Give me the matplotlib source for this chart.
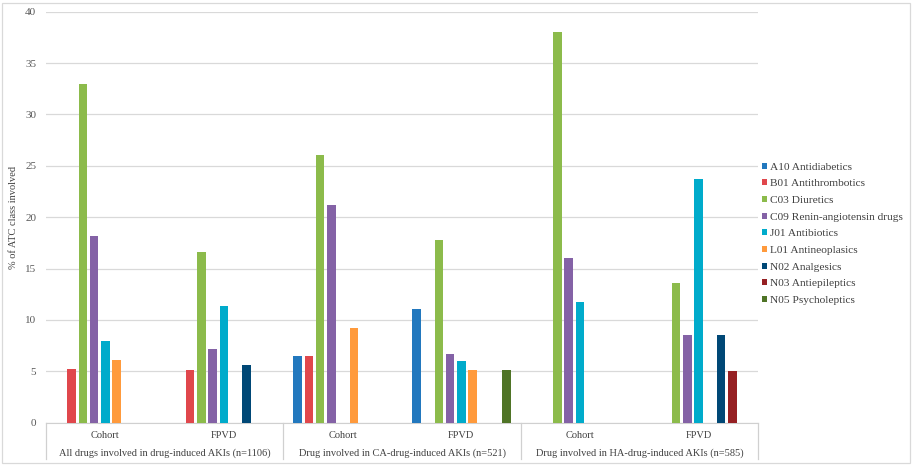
import numpy as np
import matplotlib.pyplot as plt
from matplotlib.patches import Patch, Rectangle

plt.rcParams['font.family'] = ['Liberation Serif', 'DejaVu Serif']

# sub-categories and outer groups on the x axis
sub_labels = ["Cohort", "FPVD", "Cohort", "FPVD", "Cohort", "FPVD"]
group_labels = [
    "All drugs involved in drug-induced AKIs (n=1106)",
    "Drug involved in CA-drug-induced AKIs (n=521)",
    "Drug involved in HA-drug-induced AKIs (n=585)",
]

# % of ATC class involved, per series (0 = not shown)
a10 = [0, 0, 6.5, 11.1, 0, 0]
b01 = [5.2, 5.1, 6.5, 0, 0, 0]
c03 = [33.0, 16.6, 26.1, 17.8, 38.0, 13.6]
c09 = [18.2, 7.2, 21.2, 6.7, 16.0, 8.5]
j01 = [8.0, 11.4, 0, 6.0, 11.7, 23.7]
l01 = [6.1, 0, 9.2, 5.1, 0, 0]
n02 = [0, 5.6, 0, 0, 0, 8.5]
n03 = [0, 0, 0, 0, 0, 5.0]
n05 = [0, 0, 0, 5.1, 0, 0]

series_names = [
    "A10 Antidiabetics", "B01 Antithrombotics", "C03 Diuretics",
    "C09 Renin-angiotensin drugs", "J01 Antibiotics", "L01 Antineoplasics",
    "N02 Analgesics", "N03 Antiepileptics", "N05 Psycholeptics",
]
series_values = [a10, b01, c03, c09, j01, l01, n02, n03, n05]
colors = ["#2278BE", "#E0474C", "#8CBB4B", "#8462A6", "#00ABCB",
          "#FF9A3C", "#004876", "#962023", "#4F7426"]

fig = plt.figure(figsize=(9.13, 4.66), dpi=100)
ax = fig.add_axes([46 / 913, 43.3 / 466, 712 / 913, 411 / 466])

x = np.arange(len(sub_labels))
slot = 0.095
width = 0.072
for i, (vals, col) in enumerate(zip(series_values, colors)):
    vals = np.array(vals, dtype=float)
    mask = vals > 0
    ax.bar(x[mask] + (i - 4) * slot, vals[mask], width=width, color=col, zorder=3)

ax.set_xlim(-0.5, 5.5)
ax.set_ylim(0, 40)
ax.set_yticks(np.arange(0, 41, 5))
ax.grid(axis='y', color='#d9d9d9', linewidth=0.9, zorder=0)
ax.set_xticks([])
for side in ['left', 'right', 'top']:
    ax.spines[side].set_visible(False)
ax.spines['bottom'].set_color('#d0d0d0')
ax.tick_params(axis='y', length=0, labelsize=8, colors='#595959', pad=7)
ax.set_ylabel("% of ATC class involved", fontsize=7.5, color='#404040')
ax.yaxis.set_label_coords(-0.039, 0.5)

# two-level category axis
trans = ax.get_xaxis_transform()
for i, lab in enumerate(sub_labels):
    ax.text(x[i], -0.030, lab, transform=trans, ha='center', va='center',
            fontsize=7.5, color='#404040')
for g, lab in enumerate(group_labels):
    ax.text(2 * g + 0.5, -0.074, lab, transform=trans, ha='center', va='center',
            fontsize=7.5, color='#404040')
for xb in [-0.5, 1.5, 3.5, 5.5]:
    ax.plot([xb, xb], [0, -0.088], transform=trans, color='#d0d0d0',
            linewidth=0.9, clip_on=False)

handles = [Patch(facecolor=c, label=n) for c, n in zip(colors, series_names)]
fig.legend(handles=handles, loc='upper left', bbox_to_anchor=(756 / 913, 1 - 157 / 466),
           frameon=False, fontsize=8.2, handlelength=0.45, handleheight=0.45,
           handletextpad=0.25, labelspacing=0.66, borderpad=0, labelcolor='#404040')

fig.patches.append(Rectangle((2 / 913, 3 / 466), 908 / 913, 460 / 466,
                             transform=fig.transFigure, fill=False,
                             edgecolor='#d9d9d9', linewidth=0.9))

fig.savefig("out.png", dpi=100)
